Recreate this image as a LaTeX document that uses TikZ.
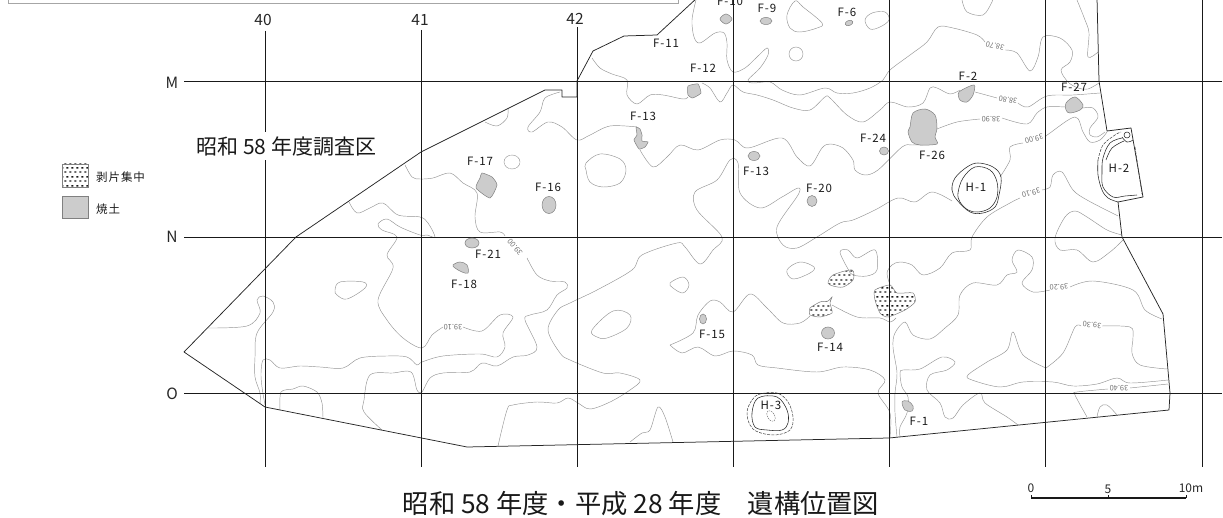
\documentclass[tikz,border=0pt]{standalone}
\usepackage{fontspec}
\usetikzlibrary{patterns}
\setmainfont{Noto Sans CJK JP}
\newfontfamily\jpl[LetterSpace=8]{Noto Sans CJK JP}
\pgfdeclarepatternformonly{stip}{\pgfpointorigin}{\pgfqpoint{4.6pt}{8.6pt}}{\pgfqpoint{4.6pt}{8.6pt}}{%
  \pgfsetlinewidth{1.4pt}%
  \pgfpathmoveto{\pgfqpoint{0.3pt}{2pt}}\pgfpathlineto{\pgfqpoint{2.6pt}{2pt}}%
  \pgfpathmoveto{\pgfqpoint{2.6pt}{6.3pt}}\pgfpathlineto{\pgfqpoint{4.6pt}{6.3pt}}%
  \pgfusepath{stroke}}
\tikzset{
  cont/.style={draw=black!42,line width=0.45pt},
  grid/.style={draw=black!90,line width=0.8pt},
  edge/.style={draw=black!85,line width=0.75pt,line join=round},
  burn/.style={fill=black!20,draw=black!50,line width=0.5pt},
  flake/.style={pattern=stip,pattern color=black!90,draw=black!50,line width=0.5pt},
  pit/.style={draw=black!85,line width=0.55pt},
  pitd/.style={draw=black!75,line width=0.5pt,dash pattern=on 3pt off 1.2pt},
  lab/.style={text=black!90,font=\jpl\fontsize{11.5}{12}\selectfont,inner sep=0pt},
  hl/.style={text=black!85,font=\fontsize{15.5}{16}\selectfont,inner sep=0pt},
  ht/.style={text=black!55,font=\fontsize{7.5}{8}\selectfont,inner sep=0pt},
  sl/.style={text=black!85,inner sep=0pt}
}
\begin{document}
\begin{tikzpicture}[x=1pt,y=-1pt]
\useasboundingbox (0,0) rectangle (1223,518);
% top frame
\draw[draw=black!35,line width=0.7pt] (8,-2) -- (8,3) -- (678,3) -- (678,-2);
% stipple patches first, grid lies on them
\path[flake] plot[smooth cycle,tension=.5] coordinates {(828,283)(833,275)(852,270)(853,280)(843,287)(833,286)};
\path[flake] plot[smooth cycle,tension=.35] coordinates {(810,308)(820,302)(828,301)(832,297)(830,303)(832,313)(820,317)(810,315)};
\path[flake] plot[smooth cycle,tension=.4] coordinates {(875,290)(890,285)(897,293)(913,293)(915,302)(905,310)(888,317)(880,313)(875,300)};
% contours
\draw[cont] plot[smooth,tension=.55] coordinates {(696,0)(692,20)(694,37)(700,43)(715,33)(724,33)(727,43)(727,60)(733,72)(745,68)(757,57)(767,48)(768,55)(760,68)(748,80)(753,83)(770,82)(782,90)(800,95)(825,88)(837,93)(853,93)(870,88)(883,80)(890,70)(910,55)(927,42)(938,27)(953,28)(977,35)(985,42)};
\draw[cont] plot[smooth,tension=.55] coordinates {(1005,50)(1017,53)(1030,71)(1038,57)(1043,37)(1060,38)(1072,50)(1070,62)(1061,70)(1068,82)(1078,88)(1088,89)(1099,83)};
\draw[cont] plot[smooth,tension=.55] coordinates {(1077,0)(1085,20)(1089,33)(1088,57)(1098,52)};
\draw[cont] plot[smooth,tension=.55] coordinates {(962,0)(967,12)(983,15)(992,2)(992,0)};
\draw[cont] plot[smooth cycle,tension=.6] coordinates {(865,20)(872,13)(885,12)(889,20)(880,27)(870,29)};
\draw[cont] plot[smooth cycle,tension=.6] coordinates {(787,15)(795,1)(803,7)(822,23)(817,28)(800,32)(790,28)};
\draw[cont] (796,54) circle[radius=7pt];
\draw[cont,dash pattern=on 6pt off .6pt] (512,162) ellipse[x radius=8pt,y radius=7pt];
\draw[cont] plot[smooth cycle,tension=.6] coordinates {(586,163)(600,154)(620,159)(626,170)(620,183)(603,187)(590,182)(586,170)};
\draw[cont] plot[smooth,tension=.55] coordinates {(592,58)(600,68)(612,74)(627,80)(627,95)(637,104)(650,95)(663,95)(683,99)(688,97)};
\draw[cont] plot[smooth,tension=.55] coordinates {(702,83)(710,88)(720,102)(727,93)(733,85)(743,92)(757,95)(773,100)(793,108)(810,110)(825,97)(830,98)(847,115)(863,122)(880,110)(890,102)(908,107)(923,103)(930,88)(937,88)(950,94)(960,90)};
\draw[cont] plot[smooth,tension=.55] coordinates {(975,92)(997,98)};
\draw[cont] plot[smooth,tension=.55] coordinates {(1018,103)(1028,107)(1047,96)(1073,95)(1100,93)};
\draw[cont] plot[smooth,tension=.55] coordinates {(560,92)(545,98)(540,112)(528,127)(532,132)(548,122)(562,127)(577,140)(590,135)(610,126)(637,127)};
\draw[cont] plot[smooth,tension=.55] coordinates {(640,150)(653,167)(667,157)(680,145)(698,150)(720,140)(735,140)(748,148)(782,138)(797,157)(810,166)(822,148)(830,144)(843,148)(853,160)(855,170)(865,175)(878,170)(902,147)(912,145)(923,145)};
\draw[cont] plot[smooth,tension=.55] coordinates {(937,129)(957,122)(980,119)};
\draw[cont] plot[smooth,tension=.55] coordinates {(1002,118)(1027,124)(1037,113)(1047,107)(1065,107)};
\draw[cont] plot[smooth,tension=.55] coordinates {(1083,108)(1093,108)(1098,117)(1090,128)(1090,135)(1097,137)(1105,132)};
\draw[cont] plot[smooth,tension=.55] coordinates {(405,165)(412,177)(420,179)(433,178)(450,173)(463,183)(477,193)(475,217)(480,232)(500,232)(505,236)};
\draw[cont] plot[smooth,tension=.55] coordinates {(527,258)(537,275)(550,281)(565,282)(567,288)(557,295)(547,310)(530,315)(525,320)(537,347)(528,355)(513,357)(497,366)(482,363)(470,372)(443,373)(430,378)(422,392)(417,390)(411,372)(393,373)(370,375)(364,400)(364,412)(382,430)};
\draw[cont] plot[smooth,tension=.55] coordinates {(349,202)(357,213)(370,208)(383,203)(398,215)(420,217)(428,223)(435,237)(427,235)(420,235)(400,227)(387,219)(378,224)(382,230)(397,237)(387,255)(393,268)(378,300)(387,320)(403,338)(422,348)(432,335)(443,327)};
\draw[cont] plot[smooth,tension=.55] coordinates {(463,327)(482,331)(500,315)(513,317)(503,333)(505,347)(497,357)(480,354)(443,356)(422,362)(417,365)(407,357)(387,356)(360,358)(343,368)(320,367)(300,366)(280,368)(270,360)(263,360)(261,373)(262,387)(265,405)};
\draw[cont] plot[smooth,tension=.55] coordinates {(208,328)(247,326)(260,313)(257,300)(263,296)(273,302)(273,312)(257,333)(255,357)(255,377)(260,393)(260,403)};
\draw[cont] plot[smooth cycle,tension=.6] coordinates {(335,290)(340,282)(363,282)(365,288)(347,299)(337,295)};
\draw[cont] plot[smooth,tension=.5] coordinates {(280,410)(281,392)(293,389)(303,386)(317,392)(322,403)(323,418)};
\draw[cont] plot[smooth,tension=.55] coordinates {(485,122)(497,126)(507,118)(508,108)};
\draw[cont] plot[smooth,tension=.55] coordinates {(498,446)(507,410)(513,405)(537,402)(557,403)(568,398)(578,403)(590,409)(610,402)(630,390)(640,380)(620,373)(603,373)(570,360)(560,353)(548,330)(558,310)(570,303)(597,290)(632,270)(642,255)(677,243)(685,247)(700,264)(713,250)(722,237)(697,210)(695,192)(717,180)(730,160)(738,163)(740,193)(760,208)(782,197)(798,188)(798,195)(777,227)(783,245)(797,248)(817,237)(840,223)(853,220)(875,210)(898,198)(915,202)(932,192)(952,201)};
\draw[cont] plot[smooth,tension=.55] coordinates {(1000,177)(1010,160)(1010,147)(1023,143)};
\draw[cont] plot[smooth,tension=.55] coordinates {(1045,137)(1050,133)(1075,117)(1083,132)(1090,142)(1100,140)(1107,132)};
\draw[cont] plot[smooth,tension=.55] coordinates {(670,345)(693,333)(698,315)(710,301)(720,302)(733,312)(750,294)(767,308)(783,323)(800,323)(810,316)};
\draw[cont] plot[smooth,tension=.55] coordinates {(832,305)(857,317)(880,318)(890,322)(896,318)};
\draw[cont] plot[smooth,tension=.55] coordinates {(670,345)(682,353)(698,347)(715,356)(733,351)(752,355)(758,365)(777,368)(817,372)(843,367)(870,370)(885,380)(878,393)(890,413)(890,437)};
\draw[cont] plot[smooth,tension=.55] coordinates {(897,437)(895,413)(895,393)(897,373)(893,347)(895,333)(905,322)(913,335)(930,339)(945,328)(958,315)(960,295)(973,283)(997,285)(1007,275)(1017,272)(1012,260)(1018,250)(1032,257)(1032,270)(1022,283)(1033,292)(1050,290)};
\draw[cont] plot[smooth,tension=.55] coordinates {(1070,287)(1093,281)(1133,290)(1145,310)(1162,319)};
\draw[cont] plot[smooth,tension=.55] coordinates {(900,437)(900,427)(907,413)(908,397)(902,387)(900,373)(903,370)(920,369)(942,357)(955,362)(947,370)(930,375)(927,390)(940,403)(945,417)(953,418)(963,405)(980,393)(985,403)(1007,417)(1018,425)};
\draw[cont] plot[smooth,tension=.55] coordinates {(1046,368)(1023,355)(1013,332)(1007,350)(987,362)(968,375)(972,380)(1000,387)(1023,382)(1053,382)(1073,386)(1097,384)(1117,378)(1130,383)(1168,380)};
\draw[cont] plot[smooth,tension=.55] coordinates {(1046,368)(1063,353)(1075,327)(1081,326)};
\draw[cont] plot[smooth,tension=.55] coordinates {(1102,326)(1130,327)(1133,337)(1132,353)(1140,365)(1167,369)};
\draw[cont] plot[smooth,tension=.5] coordinates {(1087,417)(1075,395)(1077,392)(1108,389)};
\draw[cont] (1130,388) -- (1168,384);
\draw[cont] plot[smooth,tension=.6] coordinates {(1097,417)(1100,407)(1107,405)(1117,415)};
\draw[cont] plot[smooth,tension=.5] coordinates {(630,442)(642,433)(650,430)(658,407)(665,417)(673,442)};
\draw[cont] plot[smooth cycle,tension=.6] coordinates {(592,330)(613,311)(630,315)(627,328)(607,338)(597,337)};
\draw[cont] plot[smooth cycle,tension=.6] coordinates {(670,283)(683,277)(689,285)(683,293)(673,288)};
\draw[cont] plot[smooth cycle,tension=.6] coordinates {(787,270)(800,262)(814,267)(810,273)(793,279)};
\draw[cont] plot[smooth cycle,tension=.55] coordinates {(840,252)(848,250)(857,258)(875,250)(877,270)(867,276)(853,275)(848,269)};
\draw[cont] plot[smooth,tension=.55] coordinates {(890,285)(887,273)(892,265)(900,262)(912,265)(923,275)(940,268)(952,253)(970,250)(972,237)(987,217)(1010,203)(1020,198)};
\draw[cont] plot[smooth,tension=.55] coordinates {(1042,190)(1050,187)(1053,175)(1062,172)(1073,190)(1087,200)(1118,216)};
\draw[cont] plot[smooth,tension=.55] coordinates {(1122,235)(1107,230)(1087,217)(1075,211)(1065,217)(1055,238)(1060,250)(1077,250)(1093,262)(1110,252)(1123,240)};
% contour heights
\node[ht,rotate=165] (h3870) at (995,46) {38.70};
\node[ht,rotate=170] (h3880) at (1008,100) {38.80};
\node[ht,rotate=180] (h3890) at (991,119) {38.90};
\node[ht,rotate=195] (h3900a) at (1034,139) {39.00};
\node[ht,rotate=130] (h3900b) at (515,247) {39.00};
\node[ht,rotate=195] (h3910a) at (1031,193) {39.10};
\node[ht,rotate=180] (h3910b) at (453,327) {39.10};
\node[ht,rotate=183] (h3920) at (1059,287) {39.20};
\node[ht,rotate=175] (h3930) at (1092,325) {39.30};
\node[ht,rotate=180] (h3940) at (1119,388) {39.40};
% grid
\foreach \gx/\gt in {265/31,421/30,577/27,733/0,889/0,1045/0,1202/0}
  \draw[grid] (\gx,\gt) -- (\gx,467);
\foreach \gy in {81,237,393}
  \draw[grid] (184,\gy) -- (1222,\gy);
% survey boundary
\draw[edge] (697,-2) -- (657,35) -- (624,36) -- (593,51) -- (577,81) -- (577,97) -- (562,97) -- (562,90) -- (545,90) -- (421,152) -- (296,237) -- (184,352) -- (265,407) -- (467,447) -- (889,438) -- (1169,410) -- (1170,393) -- (1163,314) -- (1122,237) -- (1118,202);
\draw[edge] (1118,202) -- (1143,197) -- (1131,128) -- (1107,131) -- (1099,81) -- (1097,-2);
% burnt soil
\path[burn] plot[smooth cycle,tension=.6] coordinates {(720,19)(726,14)(732,19)(726,24)};
\path[burn] (766,21) ellipse[x radius=6pt,y radius=3.5pt];
\path[burn,rotate around={20:(849,23)}] (849,23) ellipse[x radius=4pt,y radius=2.5pt];
\path[burn] plot[smooth cycle,tension=.3] coordinates {(688,86)(698,84)(701,93)(695,97)(692,98)(688,95)};
\path[burn] plot[smooth cycle,tension=.3] coordinates {(636,127)(640,129)(642,135)(642,141)(648,142)(645,147)(639,149)(634,140)(637,135)};
\path[burn] (754,156) ellipse[x radius=6pt,y radius=4.5pt];
\path[burn] (812,201) ellipse[x radius=5pt,y radius=5.5pt];
\path[burn] plot[smooth cycle,tension=.35] coordinates {(482,173)(492,177)(497,185)(490,198)(476,188)(480,178)};
\path[burn] (549,205) ellipse[x radius=7pt,y radius=8.5pt];
\path[burn] (472,243) ellipse[x radius=7pt,y radius=5pt];
\path[burn] plot[smooth cycle,tension=.6] coordinates {(453,265)(460,262)(467,265)(468,273)(462,272)(455,268)};
\path[burn] (703,319) ellipse[x radius=3.5pt,y radius=5pt];
\path[burn] (828,333) ellipse[x radius=6.5pt,y radius=6pt];
\path[burn] plot[smooth cycle,tension=.6] coordinates {(902,402)(908,401)(913,406)(912,411)(905,410)};
\path[burn] (884,151) ellipse[x radius=4.5pt,y radius=4pt];
\path[burn] plot[smooth cycle,tension=.5] coordinates {(910,127)(913,113)(925,109)(935,115)(937,128)(935,137)(937,144)(920,145)(912,142)(908,132)};
\path[burn] plot[smooth cycle,tension=.5] coordinates {(959,92)(974,85)(973,95)(967,102)(960,100)};
\path[burn] plot[smooth cycle,tension=.6] coordinates {(1066,103)(1075,97)(1083,105)(1080,110)(1070,113)(1066,110)};
% H-1
\draw[pit] plot[smooth cycle,tension=.6] coordinates {(952,190)(955,178)(967,167)(978,163)(993,167)(1001,177)(999,195)(995,207)(983,213)(970,212)(957,200)};
\draw[pit] plot[smooth cycle,tension=.6] coordinates {(958,193)(963,178)(975,167)(990,170)(997,182)(997,197)(990,208)(978,212)(968,210)(960,202)};
% H-2
\draw[pit] plot[smooth,tension=.6] coordinates {(1118,202)(1108,198)(1102,190)(1098,175)(1098,160)};
\draw[pitd] plot[smooth,tension=.6] coordinates {(1098,160)(1103,145)(1115,135)(1121,132)};
\draw[pit] plot[smooth,tension=.6] coordinates {(1122,138)(1110,143)(1103,158)(1102,173)(1103,187)(1113,197)(1125,196)(1137,195)};
\draw[pit] plot[smooth,tension=.6] coordinates {(1124,141)(1112,148)(1106,160)};
\draw[pitd] (1135,147) -- (1142,194);
\draw[pit] (1127,135) circle[radius=3pt];
\draw[pit] plot[smooth,tension=.7] coordinates {(1122,137)(1127,142)(1133,140)};
% H-3
\draw[pitd] plot[smooth cycle,tension=.6] coordinates {(747,412)(752,400)(760,394)(777,393)(788,402)(793,417)(790,430)(775,435)(758,432)(750,425)};
\draw[pit] plot[smooth cycle,tension=.6] coordinates {(752,413)(758,398)(777,397)(787,410)(788,423)(782,430)(767,430)(755,427)};
\draw[draw=black!60,line width=.4pt,dash pattern=on 1.5pt off 1pt,rotate around={30:(771,416)}] (771,416) ellipse[x radius=3.5pt,y radius=6pt];
% feature labels
\node[lab] (f10) at (730,1) {F-10};
\node[lab] (f9) at (767,8) {F-9};
\node[lab] (f6) at (847,12) {F-6};
\node[lab] (f11) at (666,43) {F-11};
\node[lab] (f12) at (703,68) {F-12};
\node[lab] (f13a) at (643,116) {F-13};
\node[lab] (f13b) at (756,171) {F-13};
\node[lab] (f17) at (480,161) {F-17};
\node[lab] (f16) at (548,187) {F-16};
\node[lab] (f20) at (819,188) {F-20};
\node[lab] (f21) at (488,254) {F-21};
\node[lab] (f18) at (464,284) {F-18};
\node[lab] (f15) at (712,334) {F-15};
\node[lab] (f14) at (830,347) {F-14};
\node[lab] (f1) at (919,421) {F-1};
\node[lab] (f24) at (873,138) {F-24};
\node[lab] (f26) at (932,155) {F-26};
\node[lab] (f2) at (968,76) {F-2};
\node[lab] (f27) at (1074,87) {F-27};
\node[lab] (h1) at (976,187) {H-1};
\node[lab] (h2) at (1119,168) {H-2};
\node[lab] (h3) at (771,405) {H-3};
% grid labels
\node[hl] (g40) at (263,20) {40};
\node[hl] (g41) at (420,20) {41};
\node[hl] (g42) at (575,19) {42};
\node[hl] (gm) at (172,83) {M};
\node[hl] (gn) at (172,237) {N};
\node[hl] (go) at (172,394) {O};
% title within map
\node[fill=white,inner xsep=0pt,inner ysep=0pt,minimum height=28pt,text=black!90,font=\fontsize{21}{22}\selectfont] (area) at (286.5,146.5) {昭和 58 年度調査区};
% legend
\path[flake] (62,164) rectangle (88,187);
\path[fill=black!20,draw=black!50,line width=.5pt] (62,196) rectangle (88,218);
\node[lab,anchor=west] (l1) at (96,177) {\jpl\fontsize{11.5}{12}\selectfont 剥片集中};
\node[lab,anchor=west] (l2) at (96,209) {\jpl\fontsize{11.5}{12}\selectfont 焼土};
% caption
\node[text=black!90,font=\fontsize{26.3}{27}\selectfont,inner sep=0pt] (cap) at (641,504) {昭和 58 年度・平成 28 年度　遺構位置図};
% scale
\coordinate (s0) at (1031,498);
\coordinate (s5) at (1108,498);
\coordinate (s10) at (1186,498);
\draw[draw=black!90,line width=1.3pt] (s0) -- (s10);
\draw[draw=black!90,line width=1pt] (s0) -- ++(0,-3);
\draw[draw=black!90,line width=1pt] (s5) -- ++(0,-3);
\draw[draw=black!90,line width=1pt] (s10) -- ++(0,-3);
\node[sl,font=\fontsize{12}{13}\selectfont] (t0) at (1031,488) {0};
\node[sl,font=\fontsize{12}{13}\selectfont] (t5) at (1108,489) {5};
\node[sl,font=\fontsize{12}{13}\selectfont] (t10) at (1191,488) {10m};
\end{tikzpicture}
\end{document}
